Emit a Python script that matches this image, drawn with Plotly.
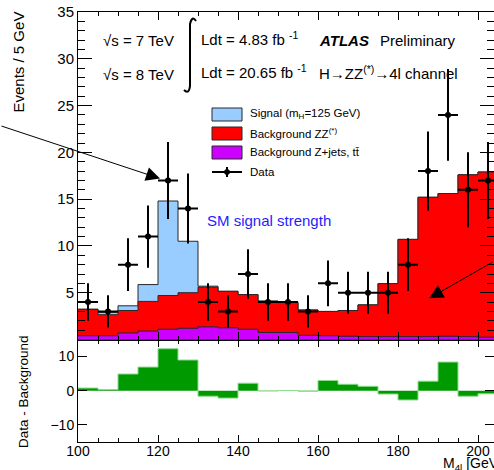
import numpy as np
import plotly.graph_objects as go

# ---------------- data ----------------
bin_edges = [100, 105, 110, 115, 120, 125, 130, 135, 140, 145, 150,
             155, 160, 165, 170, 175, 180, 185, 190, 195, 200, 205]
bin_centers = [102.5, 107.5, 112.5, 117.5, 122.5, 127.5, 132.5, 137.5, 142.5, 147.5, 152.5,
               157.5, 162.5, 167.5, 172.5, 177.5, 182.5, 187.5, 192.5, 197.5, 202.5]
bkg_zjets = [0.4, 0.4, 0.7, 0.9, 1.1, 1.2, 1.35, 1.25, 1.1, 0.75, 0.75,
             0.45, 0.4, 0.35, 0.3, 0.3, 0.3, 0.3, 0.35, 0.3, 0.25]
bkg_zz = [2.8, 2.25, 2.4, 3.17, 3.6, 3.8, 4.25, 3.9, 3.7, 3.35, 3.2,
          2.7, 2.6, 2.75, 3.4, 5.67, 10.4, 14.9, 15.25, 17.3, 17.65]
signal = [0.05, 0.25, 0.5, 1.8, 10.1, 5.5, 0.1, 0.0, 0.0, 0.0, 0.0,
          0.0, 0.0, 0.0, 0.0, 0.0, 0.0, 0.0, 0.0, 0.0, 0.0]
data = [4, 3, 8, 11, 17, 14, 4, 3, 7, 4, 4, 3, 6, 5, 5, 5, 8, 18, 24, 16, 17]
data_err = [2.0, 1.73, 2.83, 3.32, 4.12, 3.74, 2.0, 1.73, 2.65, 2.0, 2.0,
            1.73, 2.45, 2.24, 2.24, 2.24, 2.83, 4.24, 4.9, 4.0, 4.12]
half_width = [2.5] * len(bin_centers)

x_ticks = [100, 120, 140, 160, 180, 200]
y_ticks = [0, 5, 10, 15, 20, 25, 30, 35]
y_ticktext = ["", "5", "10", "15", "20", "25", "30", "35"]
r_ticks = [-10, 0, 10]

# ---------------- derived stacks ----------------
zj = np.array(bkg_zjets)
bkg_tot = zj + np.array(bkg_zz)
sig_tot = bkg_tot + np.array(signal)
diff = np.array(data) - bkg_tot


def step(v):
    v = list(v)
    return v + [v[-1]]


FONT = "Liberation Sans, Arial, sans-serif"
W, H = 494, 470
ML, MR, MT, MB = 78, 0, 12, 28
PW, PH = W - ML - MR, H - MT - MB
split_px = 339.5
split = (H - MB - split_px) / PH


def px(x):
    return (x - ML) / PW


def py(y):
    return (H - MB - y) / PH


fig = go.Figure()

outline = "rgb(40,40,40)"
fig.add_trace(go.Scatter(x=bin_edges, y=step(sig_tot), mode="lines", line_shape="hv",
                         line=dict(color=outline, width=1), fill="tozeroy",
                         fillcolor="rgb(153,204,255)", xaxis="x2", yaxis="y", showlegend=False))
fig.add_trace(go.Scatter(x=bin_edges, y=step(bkg_tot), mode="lines", line_shape="hv",
                         line=dict(color=outline, width=1), fill="tozeroy",
                         fillcolor="rgb(255,0,0)", xaxis="x2", yaxis="y", showlegend=False))
fig.add_trace(go.Scatter(x=bin_edges, y=step(zj), mode="lines", line_shape="hv",
                         line=dict(color=outline, width=1), fill="tozeroy",
                         fillcolor="rgb(204,0,255)", xaxis="x2", yaxis="y", showlegend=False))
fig.add_trace(go.Scatter(x=bin_centers, y=data, mode="markers",
                         marker=dict(color="black", size=6),
                         error_y=dict(type="data", array=data_err, color="black", thickness=2, width=0),
                         error_x=dict(type="data", array=half_width, color="black", thickness=2, width=0),
                         xaxis="x2", yaxis="y", showlegend=False))

# lower panel
fig.add_trace(go.Scatter(x=bin_edges, y=step(diff), mode="lines", line_shape="hv",
                         line=dict(color="rgb(140,220,140)", width=1), fill="tozeroy",
                         fillcolor="rgb(0,153,0)", xaxis="x", yaxis="y2", showlegend=False))

axis_common = dict(showgrid=False, zeroline=False, showline=True, linecolor="black",
                   linewidth=1, mirror="allticks", ticks="inside", tickcolor="black",
                   layer="above traces",
                   tickfont=dict(family=FONT, size=14, color="black"))

fig.update_layout(
    width=W, height=H,
    margin=dict(l=ML, r=MR, t=MT, b=MB),
    paper_bgcolor="white", plot_bgcolor="white",
    xaxis=dict(**axis_common, domain=[0, 1], anchor="y2", range=[100, 204],
               tickmode="array", tickvals=x_ticks, ticklen=7, ticklabelstandoff=-4,
               minor=dict(dtick=5, tick0=100, ticklen=4, ticks="inside", tickcolor="black")),
    xaxis2=dict(**axis_common, domain=[0, 1], anchor="y", range=[100, 204], matches="x",
                tickmode="array", tickvals=x_ticks, ticklen=8, showticklabels=False,
                minor=dict(dtick=5, tick0=100, ticklen=4, ticks="inside", tickcolor="black")),
    yaxis=dict(**{**axis_common, "tickfont": dict(family=FONT, size=15, color="black")},
               domain=[split, 1], anchor="x2", range=[0, 35],
               tickmode="array", tickvals=y_ticks, ticktext=y_ticktext, ticklen=14,
               minor=dict(dtick=1, tick0=0, ticklen=7, ticks="inside", tickcolor="black")),
    yaxis2=dict(**axis_common, domain=[0, split], anchor="x", range=[-15, 15],
                tickmode="array", tickvals=r_ticks, ticklen=9),
)

ann = []


def text(x, y, t, size=15, color="black", xanchor="left", yanchor="middle", angle=0):
    ann.append(dict(x=px(x), y=py(y), xref="paper", yref="paper", text=t, showarrow=False,
                    xanchor=xanchor, yanchor=yanchor, textangle=angle,
                    font=dict(family=FONT, size=size, color=color)))


text(101, 41, "√s = 7 TeV")
text(101, 74, "√s = 8 TeV")
text(199, 39, "Ldt = 4.83 fb <sup>-1</sup>")
text(199, 71, "Ldt = 20.65 fb <sup>-1</sup>")
text(317, 41, "<b><i>ATLAS</i></b>")
text(378, 41, "Preliminary")
text(317, 72, "H→ZZ<sup>(*)</sup>→4l channel")
text(205, 220, "SM signal strength", color="rgb(30,30,255)")

# legend
text(248, 114, "Signal (m<sub>H</sub>=125 GeV)", size=11.5)
text(248, 133, "Background ZZ<sup>(*)</sup>", size=11.5)
text(248, 152, "Background Z+jets, tt\u0304", size=11.5)
text(248, 172, "Data", size=11.5)

text(18.5, 62, "Events / 5 GeV", xanchor="center", angle=-90)
text(23, 392, "Data - Background", size=13.5, xanchor="center", angle=-90)
text(441, 464, "M<sub>4l</sub> [GeV]", size=14)

# arrows
ann.append(dict(x=120.5, y=17.2, xref="x2", yref="y", ax=-162, ay=-53, axref="pixel", ayref="pixel",
                showarrow=True, arrowhead=2, arrowsize=2.8, arrowwidth=1, arrowcolor="black", text=""))
ann.append(dict(x=187.8, y=4.4, xref="x2", yref="y", ax=80, ay=-37,
                showarrow=True, arrowhead=2, arrowsize=2.8, arrowwidth=1, arrowcolor="black", text=""))
fig.update_layout(annotations=ann)

shapes = []
# integral sign drawn as a path (pixel coords converted to paper)
pts = [("M", 196, 21), ("Q", 192, 15, 190, 24), ("L", 190, 86), ("Q", 189, 95, 184, 90)]
path = ""
for p in pts:
    cmd = p[0]
    coords = p[1:]
    seg = []
    for i in range(0, len(coords), 2):
        seg.append(f"{px(coords[i]):.5f},{py(coords[i + 1]):.5f}")
    path += cmd + " " + " ".join(seg) + " "
shapes.append(dict(type="path", xref="paper", yref="paper", path=path.strip(),
                   line=dict(color="black", width=2)))

for (y0, y1, col) in [(108, 121, "rgb(153,204,255)"), (127, 140, "rgb(255,0,0)"), (146, 159, "rgb(204,0,255)")]:
    shapes.append(dict(type="rect", xref="paper", yref="paper", x0=px(212), x1=px(242),
                       y0=py(y1), y1=py(y0), fillcolor=col, line=dict(color=outline, width=1)))
shapes.append(dict(type="line", xref="paper", yref="paper", x0=px(212), x1=px(242),
                   y0=py(172), y1=py(172), line=dict(color="black", width=2)))
shapes.append(dict(type="line", xref="paper", yref="paper", x0=px(227), x1=px(227),
                   y0=py(167), y1=py(177), line=dict(color="black", width=2)))
shapes.append(dict(type="circle", xref="paper", yref="paper", x0=px(224.5), x1=px(229.5),
                   y0=py(174.5), y1=py(169.5), fillcolor="black", line=dict(color="black", width=1)))
fig.update_layout(shapes=shapes)

fig.write_html("out.html")
